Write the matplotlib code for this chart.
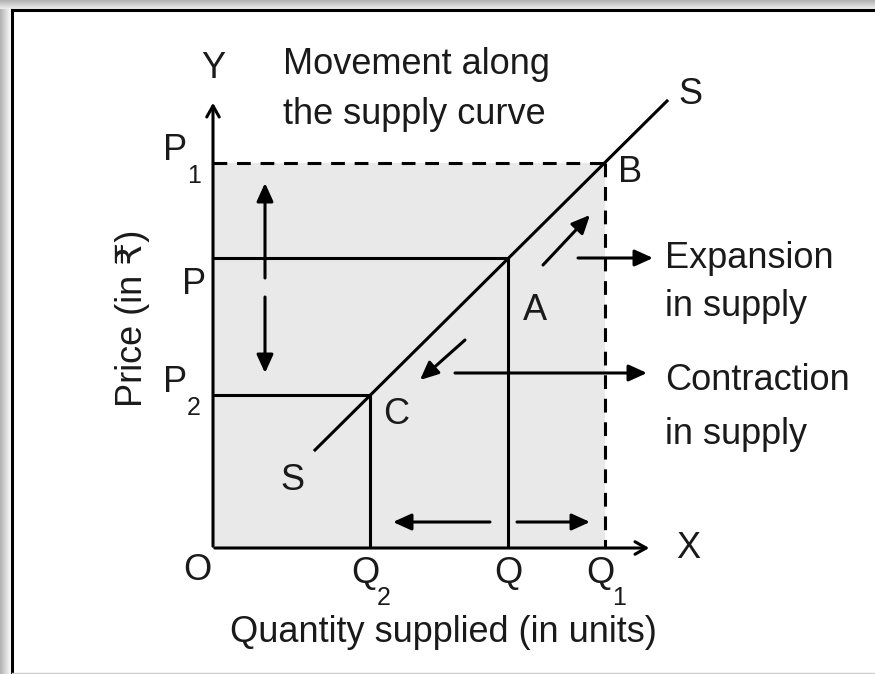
import numpy as np
import matplotlib
matplotlib.use("Agg")
from matplotlib import pyplot as plt
from matplotlib.patches import Rectangle

plt.rcParams['font.family'] = ['Liberation Sans', 'DejaVu Sans']

# levels on the axes (origin at 0, 0)
q_labels = ["Q", "Q", "Q"]
q_subs = ["2", "", "1"]
q_values = [157, 295, 392]        # Q2, Q, Q1
p_subs = ["2", "", "1"]
p_values = [153, 290, 385]        # P2, P, P1
supply_q = [102, 454]
supply_p = [98, 447]
x_max = 439
y_max = 448

q2, q, q1 = q_values
p2, p, p1 = p_values

fig = plt.figure(figsize=(8.75, 6.74), dpi=100)

# frame with shadow on left and top
bg = fig.add_axes([0, 0, 1, 1])
bg.axis("off")
grad = np.linspace(0.70, 1.0, 12)
bg.imshow(np.tile(grad, (674, 1)), cmap="gray", vmin=0, vmax=1,
          extent=[0, 12, 674, 0], aspect="auto")
bg.imshow(np.tile(grad[:9], (875, 1)).T, cmap="gray", vmin=0, vmax=1,
          extent=[0, 875, 9, 0], aspect="auto")
bg.plot([12, 12], [10, 674], color="black", lw=2.2)
bg.plot([12, 875], [10, 10], color="black", lw=2.2)
bg.plot([12, 875], [673, 673], color="#cccccc", lw=1)
bg.set_xlim(0, 875)
bg.set_ylim(674, 0)

ax = fig.add_axes([213 / 875, 126 / 674, 470 / 875, 460 / 674])
ax.set_xlim(0, 470)
ax.set_ylim(0, 460)
ax.axis("off")

lw = 2.2
fs = 26

# shaded area
ax.add_patch(Rectangle((0, 0), q1, p1, facecolor="#e9e9e9", edgecolor="none", zorder=0))

# axes with open arrow heads
ax.annotate("", xy=(x_max, 0), xytext=(-1, 0),
            arrowprops=dict(arrowstyle="->,head_length=0.8,head_width=0.45", lw=lw, color="black"))
ax.annotate("", xy=(0, y_max), xytext=(0, -1),
            arrowprops=dict(arrowstyle="->,head_length=0.8,head_width=0.45", lw=lw, color="black"))

# price and quantity lines
ax.plot([0, q2, q2], [p2, p2, 0], color="black", lw=lw, solid_joinstyle="miter")
ax.plot([0, q, q], [p, p, 0], color="black", lw=lw, solid_joinstyle="miter")
ax.plot([0, q1], [p1, p1], color="black", lw=lw, ls=(0, (4.5, 3.2)))
ax.plot([q1, q1], [p1, 0], color="black", lw=lw, ls=(0, (4.5, 3.2)))

# supply curve
ax.plot(supply_q, supply_p, color="black", lw=lw)

# movement arrows
head = dict(arrowstyle="-|>,head_length=1.1,head_width=0.5", lw=lw, color="black",
            shrinkA=0, shrinkB=0)
arrows = [
    ((52, 270), (52, 365)),
    ((52, 251), (52, 175)),
    ((277, 26), (180, 26)),
    ((304, 26), (377, 26)),
    ((330, 283), (377, 333)),
    ((252, 208), (207, 168)),
    ((365, 290), (440, 290)),
    ((242, 175), (434, 175)),
]
for start, end in arrows:
    ax.annotate("", xy=end, xytext=start, arrowprops=head)

txt = dict(fontsize=fs, color="#1a1a1a", clip_on=False)
sub_txt = dict(fontsize=18, color="#1a1a1a", clip_on=False)

# axis letters
ax.text(0, 479, "Y", ha="center", va="center", **txt)
ax.text(475, 0, "X", ha="center", va="center", **txt)
ax.text(-16, -22, "O", ha="center", va="center", **txt)

# price labels
for val, sub in zip(p_values, p_subs):
    if sub:
        ax.text(-38, val + 12, "P", ha="center", va="center", **txt)
        ax.text(-19, val - 13, sub, ha="center", va="center", **sub_txt)
    else:
        ax.text(-19, val - 27, "P", ha="center", va="center", **txt)

# quantity labels
for val, name, sub in zip(q_values, q_labels, q_subs):
    if sub:
        ax.text(val - 5, -25, name, ha="center", va="center", **txt)
        ax.text(val + 14, -50, sub, ha="center", va="center", **sub_txt)
    else:
        ax.text(val, -25, name, ha="center", va="center", **txt)

# point labels
ax.text(417, 376, "B", ha="center", va="center", **txt)
ax.text(322, 238, "A", ha="center", va="center", **txt)
ax.text(183, 133, "C", ha="center", va="center", **txt)
ax.text(79, 68, "S", ha="center", va="center", **txt)
ax.text(477, 454, "S", ha="center", va="center", **txt)

ax.text(70, 483, "Movement along", ha="left", va="center", **txt)
ax.text(70, 433, "the supply curve", ha="left", va="center", **txt)

ax.text(452, 290, "Expansion", ha="left", va="center", **txt)
ax.text(452, 241, "in supply", ha="left", va="center", **txt)
ax.text(452, 168, "Contraction", ha="left", va="center", **txt)
ax.text(452, 113, "in supply", ha="left", va="center", **txt)

ax.text(230, -84, "Quantity supplied (in units)", ha="center", va="center", **txt)
ax.text(-81, 230, "Price (in \u20b9)", ha="center", va="center", rotation=90, **txt)

fig.savefig("out.png", dpi=100)
